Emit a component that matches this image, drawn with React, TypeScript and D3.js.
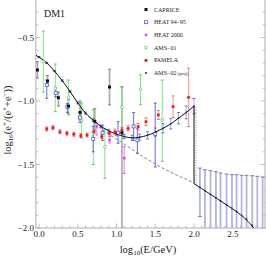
import React from "react";
import * as d3 from "d3";

// model curve (solid) below and above the cut-off
const modelX = [-0.04, 0.0, 0.1, 0.2, 0.3, 0.4, 0.5, 0.6, 0.7, 0.8, 0.9, 1.0, 1.1, 1.2, 1.3, 1.4, 1.5, 1.6, 1.7, 1.8, 1.9, 2.0];
const modelY = [-0.64, -0.655, -0.70, -0.765, -0.84, -0.925, -1.015, -1.095, -1.15, -1.20, -1.235, -1.26, -1.28, -1.29, -1.285, -1.27, -1.245, -1.215, -1.18, -1.135, -1.09, -1.04];
const tailX = [2.0, 2.1, 2.2, 2.3, 2.4, 2.5, 2.6, 2.7, 2.77, 2.85];
const tailY = [-1.65, -1.69, -1.73, -1.77, -1.81, -1.85, -1.895, -1.95, -2.0, -2.07];
// background (dashed)
const bgX = [0.55, 0.7, 0.85, 1.0, 1.2, 1.4, 1.6, 1.8, 2.0];
const bgY = [-1.06, -1.16, -1.24, -1.30, -1.38, -1.46, -1.53, -1.59, -1.645];

// CAPRICE
const capX = [-0.02, 0.11, 0.25, 0.38, 0.53, 0.72, 0.91, 1.07];
const capY = [-0.756, -0.843, -0.974, -1.04, -1.09, -1.16, -0.89, -1.25];
const capHi = [-0.69, -0.80, -0.93, -0.99, -1.0, -1.06, -0.75, -0.89];
const capLo = [-0.82, -0.88, -1.04, -1.10, -1.15, -1.23, -1.03, -2.1];

// HEAT 94-95
const h94X = [0.10, 0.215, 0.366, 0.53, 0.70, 0.82, 1.02, 1.22, 1.27, 1.50];
const h94Y = [-0.874, -0.935, -1.045, -1.13, -1.30, -1.25, -1.25, -1.20, -1.31, -1.26];
const h94Hi = [-0.835, -0.898, -1.02, -1.09, -1.20, -1.19, -1.163, -1.09, -1.215, -1.016];
const h94Lo = [-0.979, -0.966, -1.09, -1.17, -1.40, -1.31, -1.333, -1.31, -1.412, -1.52];

// HEAT 2000
const h00X = [0.745, 0.91, 1.10];
const h00Y = [-1.20, -1.307, -1.45];
const h00Hi = [-1.173, -1.28, -1.36];
const h00Lo = [-1.268, -1.33, -1.57];

// AMS-01
const a01X = [0.056, 0.21, 0.38, 0.55, 0.70, 0.85, 1.07, 1.31, 1.59];
const a01Y = [-0.69, -0.90, -0.97, -1.15, -1.25, -1.36, -1.05, -0.908, -1.15];
const a01Hi = [-0.45, -0.709, -0.835, -1.016, -1.07, -1.215, -0.887, -0.795, -0.835];
const a01Lo = [-0.93, -1.084, -1.11, -1.291, -1.50, -1.609, -1.268, -1.03, -1.475];

// PAMELA
const pamX = [0.10, 0.18, 0.27, 0.36, 0.45, 0.54, 0.62, 0.71, 0.81, 0.91, 0.98, 1.07, 1.15, 1.28, 1.38, 1.54, 1.73, 1.93];
const pamY = [-1.22, -1.21, -1.242, -1.254, -1.262, -1.273, -1.268, -1.242, -1.281, -1.254, -1.242, -1.228, -1.215, -1.202, -1.163, -1.11, -1.045, -0.971];
const pamErr = [0.015, 0.015, 0.015, 0.015, 0.015, 0.015, 0.015, 0.015, 0.015, 0.015, 0.02, 0.02, 0.02, 0.025, 0.03, 0.035, 0.085, 0.23];

// AMS-02 projected
const a02X = [0.0, 0.1, 0.2, 0.3, 0.4, 0.5, 0.6, 0.7, 0.8, 0.9, 1.0, 1.1, 1.2, 1.3, 1.4, 1.5, 1.6, 1.7, 1.8, 1.9, 2.0];
const a02Y = [-0.655, -0.70, -0.765, -0.84, -0.925, -1.015, -1.095, -1.15, -1.20, -1.235, -1.26, -1.28, -1.29, -1.285, -1.27, -1.245, -1.215, -1.18, -1.135, -1.09, -1.04];
const a02Err = [0.005, 0.005, 0.005, 0.006, 0.006, 0.007, 0.008, 0.009, 0.01, 0.012, 0.014, 0.016, 0.02, 0.024, 0.028, 0.032, 0.036, 0.04, 0.045, 0.05, 0.06];
const a02HX = [2.076, 2.141, 2.213, 2.283, 2.342, 2.42, 2.49, 2.549, 2.614, 2.678, 2.752, 2.817, 2.885];
const a02HY = [-1.68, -1.705, -1.735, -1.763, -1.787, -1.818, -1.845, -1.87, -1.90, -1.93, -1.98, -2.03, -2.08];
const a02HHi = [-1.528, -1.541, -1.549, -1.557, -1.567, -1.575, -1.58, -1.58, -1.585, -1.585, -1.588, -1.593, -1.598];
const a02HLo = [-1.91, -2.1, -2.1, -2.1, -2.1, -2.1, -2.1, -2.1, -2.1, -2.1, -2.1, -2.1, -2.1];

const xMajor = [0.0, 0.5, 1.0, 1.5, 2.0, 2.5];
const yMajor = [-0.5, -1.0, -1.5, -2.0];
const legendNames = ["CAPRICE", "HEAT 94\u221295", "HEAT 2000", "AMS\u221201", "PAMELA", "AMS\u221202"];

const W = 266;
const H = 256;

const x = d3.scaleLinear().domain([0, 2.5]).range([39, 232.75]);
const y = d3.scaleLinear().domain([-0.5, -2.0]).range([37.5, 228]);
const x0 = x(-0.04), x1 = 265, yTop = y(-0.2), yBot = y(-2.0);

const fmt = (v: number) => (v < 0 ? "\u2212" : "") + Math.abs(v).toFixed(1);

const ErrBars = ({ xs, hi, lo, color, w = 1, cap = 3, capColor }: any) => (
  <g stroke={color} strokeWidth={w}>
    {xs.map((v: number, i: number) => (
      <g key={i}>
        <line x1={x(v)} x2={x(v)} y1={y(hi[i])} y2={y(lo[i])} />
        <line x1={x(v) - cap / 2} x2={x(v) + cap / 2} y1={y(hi[i])} y2={y(hi[i])} stroke={capColor || color} strokeWidth={0.8} />
        <line x1={x(v) - cap / 2} x2={x(v) + cap / 2} y1={y(lo[i])} y2={y(lo[i])} stroke={capColor || color} strokeWidth={0.8} />
      </g>
    ))}
  </g>
);

export default function App() {
  const line = d3.line<number>().curve(d3.curveMonotoneX);
  const modelPath = line(modelX.map((v, i) => [x(v), y(modelY[i])] as any) as any);
  const tailPath = line(tailX.map((v, i) => [x(v), y(tailY[i])] as any) as any);
  const bgPath = line(bgX.map((v, i) => [x(v), y(bgY[i])] as any) as any);

  const xMinor = d3.range(0, 29).map((i) => i / 10);
  const yMinor = d3.range(2, 21).map((i) => -i / 10);

  return (
    <svg width={W} height={H} style={{ position: "absolute", left: 0, top: 0, background: "#fff" }} fontFamily="'Liberation Serif', 'DejaVu Serif', serif">
      <defs>
        <clipPath id="plot">
          <rect x={x0} y={yTop} width={x1 - x0} height={yBot - yTop} />
        </clipPath>
      </defs>
      {/* frame */}
      <rect x={x0} y={yTop} width={x1 - x0} height={yBot - yTop} fill="none" stroke="#999" strokeWidth={0.8} />
      <g stroke="#999" strokeWidth={0.6}>
        {xMinor.map((v) => {
          const len = Math.abs(v * 2 - Math.round(v * 2)) < 1e-6 ? 4.5 : 2.5;
          return <line key={"xm" + v} x1={x(v)} x2={x(v)} y1={yBot} y2={yBot - len} />;
        })}
        {yMinor.map((v) => {
          const len = Math.abs(v * 2 - Math.round(v * 2)) < 1e-6 ? 4.5 : 2.5;
          return (
            <g key={"ym" + v}>
              <line x1={x0} x2={x0 + len} y1={y(v)} y2={y(v)} />
              <line x1={x1} x2={x1 - len} y1={y(v)} y2={y(v)} />
            </g>
          );
        })}
      </g>
      <g fontSize={9} fill="#222">
        {xMajor.map((v) => (
          <text key={"xl" + v} x={x(v)} y={yBot + 9} textAnchor="middle">{v.toFixed(1)}</text>
        ))}
        {yMajor.map((v) => (
          <text key={"yl" + v} x={x0 - 2} y={y(v) + 3} textAnchor="end">{fmt(v)}</text>
        ))}
      </g>
      <text x={148} y={253} fontSize={10.5} textAnchor="middle" fill="#222">
        log<tspan fontSize={7} dy={2}>10</tspan><tspan dy={-2}>(E/GeV)</tspan>
      </text>
      <text transform={`translate(11,${120}) rotate(-90)`} fontSize={10.5} textAnchor="middle" fill="#222">
        log<tspan fontSize={7} dy={2}>10</tspan><tspan dy={-2}>(e</tspan><tspan fontSize={7} dy={-4}>+</tspan><tspan dy={4}>/(e</tspan><tspan fontSize={7} dy={-4}>+</tspan><tspan dy={4}>+e</tspan><tspan fontSize={7} dy={-4}>{"\u2212"}</tspan><tspan dy={4}>))</tspan>
      </text>
      <text x={44} y={17} fontSize={10} fill="#222">DM1</text>

      <g clipPath="url(#plot)">
        <path d={bgPath || ""} fill="none" stroke="#666" strokeWidth={0.8} strokeDasharray="3,2" />
        <line x1={x(2.025)} x2={x(2.025)} y1={y(-1.05)} y2={y(-1.66)} stroke="#777" strokeWidth={0.8} strokeDasharray="1,1.5" />
        <ErrBars xs={a02HX} hi={a02HHi} lo={a02HLo} color="#b4b4e4" w={1.8} cap={4} capColor="#6060b0" />
        <ErrBars xs={capX} hi={capHi} lo={capLo} color="#a8a8a8" w={1.6} capColor="#666" />
        <ErrBars xs={a01X} hi={a01Hi} lo={a01Lo} color="#7fe87f" w={1} capColor="#44bb44" />
        <ErrBars xs={h94X} hi={h94Hi} lo={h94Lo} color="#8080ee" w={1.2} capColor="#4444cc" />
        <ErrBars xs={h00X} hi={h00Hi} lo={h00Lo} color="#f0a0f0" w={1.4} capColor="#dd44dd" />
        <ErrBars xs={pamX} hi={pamY.map((v, i) => v + pamErr[i])} lo={pamY.map((v, i) => v - pamErr[i])} color="#f4a4a4" w={1.2} capColor="#e05050" />
        <ErrBars xs={a02X} hi={a02Y.map((v, i) => v + a02Err[i])} lo={a02Y.map((v, i) => v - a02Err[i])} color="#9a9ad8" w={0.8} capColor="#5555aa" />
        <path d={modelPath || ""} fill="none" stroke="#111" strokeWidth={1} />
        <path d={tailPath || ""} fill="none" stroke="#111" strokeWidth={1} />
        <line x1={x(2.0)} x2={x(2.0)} y1={y(-1.04)} y2={y(-1.65)} stroke="#111" strokeWidth={1} />
        {a01X.map((v, i) => (
          <circle key={"a01" + i} cx={x(v)} cy={y(a01Y[i])} r={1.4} fill="#fff" stroke="#44cc44" strokeWidth={0.7} />
        ))}
        {h94X.map((v, i) => (
          <rect key={"h94" + i} x={x(v) - 1.5} y={y(h94Y[i]) - 1.5} width={3} height={3} fill="#fff" stroke="#4444dd" strokeWidth={0.7} />
        ))}
        {h00X.map((v, i) => (
          <rect key={"h00" + i} x={x(v) - 1.2} y={y(h00Y[i]) - 1.2} width={2.4} height={2.4} fill="#e040e0" />
        ))}
        {pamX.map((v, i) => (
          <circle key={"pam" + i} cx={x(v)} cy={y(pamY[i])} r={1.6} fill="#ee2222" />
        ))}
        {capX.map((v, i) => (
          <rect key={"cap" + i} x={x(v) - 1.5} y={y(capY[i]) - 1.5} width={3} height={3} fill="#111" />
        ))}
        {a02X.map((v, i) => (
          <circle key={"a02" + i} cx={x(v)} cy={y(a02Y[i])} r={0.9} fill="#22227a" />
        ))}
        {a02HX.map((v, i) => (
          <circle key={"a02h" + i} cx={x(v)} cy={y(a02HY[i])} r={0.9} fill="#22227a" />
        ))}
      </g>

      {/* legend */}
      <g fontSize={6} fill="#222">
        {legendNames.map((name, i) => {
          const ly = 9.5 + i * 12.7;
          const mx = 146;
          let marker: any = null;
          if (i === 0) marker = <rect x={mx - 1.5} y={ly - 1.5} width={3} height={3} fill="#111" />;
          if (i === 1) marker = <rect x={mx - 1.5} y={ly - 1.5} width={3} height={3} fill="#fff" stroke="#4444dd" strokeWidth={0.7} />;
          if (i === 2) marker = <rect x={mx - 1.2} y={ly - 1.2} width={2.4} height={2.4} fill="#e040e0" />;
          if (i === 3) marker = <circle cx={mx} cy={ly} r={1.4} fill="#fff" stroke="#44cc44" strokeWidth={0.7} />;
          if (i === 4) marker = <circle cx={mx} cy={ly} r={1.6} fill="#ee2222" />;
          if (i === 5) marker = <circle cx={mx} cy={ly} r={1} fill="#22227a" />;
          return (
            <g key={name}>
              {marker}
              <text x={154} y={ly + 2}>
                {name}
                {i === 5 ? <tspan fontSize={4.8}> (proj)</tspan> : null}
              </text>
            </g>
          );
        })}
      </g>
    </svg>
  );
}
